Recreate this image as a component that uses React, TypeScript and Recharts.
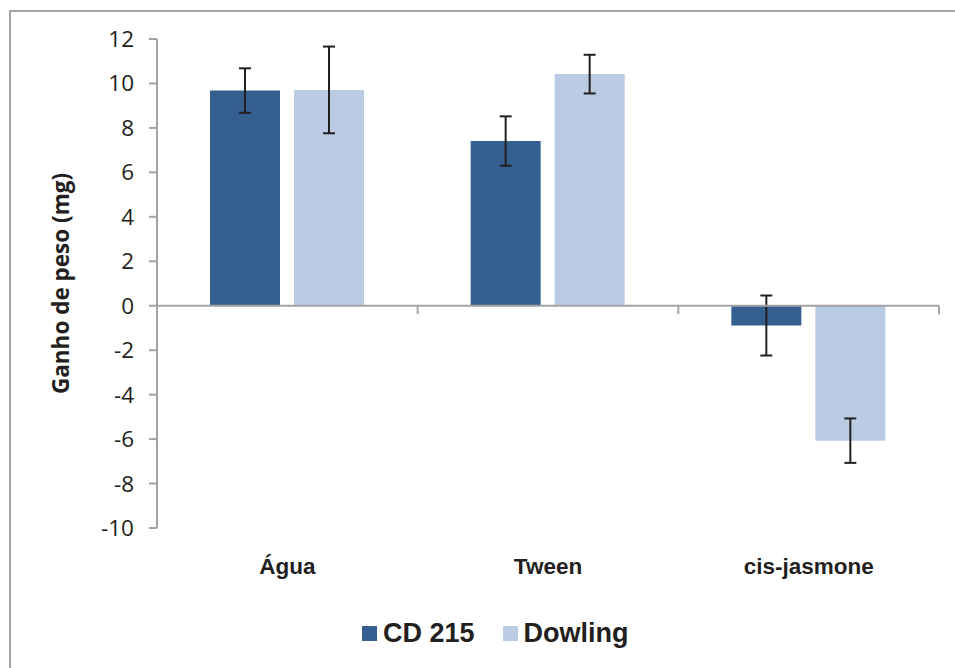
import {
  BarChart,
  Bar,
  XAxis,
  YAxis,
  ErrorBar,
  ReferenceLine,
  Legend,
} from 'recharts';

const categories = ['Água', 'Tween', 'cis-jasmone'];
const seriesNames = ['CD 215', 'Dowling'];
const cd215 = [9.68, 7.41, -0.89];
const cd215Err = [1.0, 1.11, 1.35];
const dowling = [9.71, 10.42, -6.07];
const dowlingErr = [1.95, 0.87, 1.0];
const yTicks = [-10, -8, -6, -4, -2, 0, 2, 4, 6, 8, 10, 12];
// category boundaries on the zero line (Excel-style ticks between categories)
const boundaries = [1, 2, 3];

const colors = ['#365f91', '#b9cce4'];
const axisGray = '#a3a3a3';

const data = categories.map((name, i) => ({
  name,
  pos: i + 0.5,
  cd215: cd215[i],
  cd215Err: cd215Err[i],
  dowling: dowling[i],
  dowlingErr: dowlingErr[i],
}));

function CategoryTick({ x, y, payload }: { x?: number; y?: number; payload?: { value: string } }) {
  return (
    <text
      x={x}
      y={(y ?? 0) + 46}
      textAnchor="middle"
      fontFamily="'Liberation Sans', Arial, sans-serif"
      fontWeight="bold"
      fontSize={22.5}
      fill="#231f20"
    >
      {payload?.value}
    </text>
  );
}

function LegendContent() {
  return (
    <div style={{ display: 'flex', alignItems: 'center' }}>
      {seriesNames.map((n, i) => (
        <div key={n} style={{ display: 'flex', alignItems: 'center', marginRight: 28 }}>
          <span style={{ width: 15, height: 15, background: colors[i], display: 'inline-block', marginRight: 6 }} />
          <span
            style={{
              fontFamily: "'Liberation Sans', Arial, sans-serif",
              fontWeight: 'bold',
              fontSize: 27,
              color: '#231f20',
            }}
          >
            {n}
          </span>
        </div>
      ))}
    </div>
  );
}

export default function App() {
  return (
    <div style={{ position: 'relative', width: 955, height: 668, overflow: 'hidden', background: '#fff' }}>
      <style>{`body{margin:0;overflow:hidden}`}</style>
      <div
        style={{
          position: 'absolute',
          left: 9,
          top: 10,
          width: 960,
          height: 670,
          borderLeft: `2px solid ${axisGray}`,
          borderTop: `2px solid ${axisGray}`,
        }}
      />
      <div style={{ position: 'absolute', left: 0, top: 0 }}>
        <BarChart
          width={955}
          height={668}
          data={data}
          margin={{ top: 39, right: 16, bottom: 100, left: 0 }}
          barCategoryGap={53}
          barGap={14}
        >
          <XAxis
            dataKey="name"
            height={40}
            axisLine={false}
            tickLine={false}
            tickSize={0}
            tickMargin={0}
            tick={<CategoryTick />}
          />
          <XAxis xAxisId="grid" type="number" dataKey="pos" domain={[0, 3]} allowDataOverflow hide />
          <YAxis
            width={157}
            domain={[-10, 12]}
            ticks={yTicks}
            interval={0}
            allowDataOverflow
            axisLine={{ stroke: axisGray, strokeWidth: 2 }}
            tickLine={{ stroke: axisGray, strokeWidth: 2 }}
            tickSize={8}
            tickMargin={15}
            tick={{ fontSize: 22.5, fill: '#231f20', fontFamily: "'Open Sans', sans-serif" }}
            label={{
              value: 'Ganho de peso (mg)',
              angle: -90,
              position: 'insideLeft',
              dx: 56,
              dy: 0,
              style: {
                fontFamily: "'Open Sans', sans-serif",
                fontWeight: 'bold',
                fontSize: 22.5,
                fill: '#231f20',
                textAnchor: 'middle',
              },
            }}
          />
          <Bar dataKey="cd215" name={seriesNames[0]} fill={colors[0]} isAnimationActive={false}>
            <ErrorBar dataKey="cd215Err" width={6} stroke="#231f20" strokeWidth={2} />
          </Bar>
          <Bar dataKey="dowling" name={seriesNames[1]} fill={colors[1]} isAnimationActive={false}>
            <ErrorBar dataKey="dowlingErr" width={6} stroke="#231f20" strokeWidth={2} />
          </Bar>
          <ReferenceLine y={0} stroke={axisGray} strokeWidth={2} />
          {boundaries.map((v) => (
            <ReferenceLine
              key={v}
              xAxisId="grid"
              segment={[
                { x: v, y: 0 },
                { x: v, y: -0.38 },
              ]}
              stroke={axisGray}
              strokeWidth={2}
            />
          ))}
          <Legend
            layout="horizontal"
            verticalAlign="middle"
            align="center"
            content={<LegendContent />}
            wrapperStyle={{ position: 'absolute', top: 618, left: 362, width: 'auto' }}
          />
        </BarChart>
      </div>
    </div>
  );
}
